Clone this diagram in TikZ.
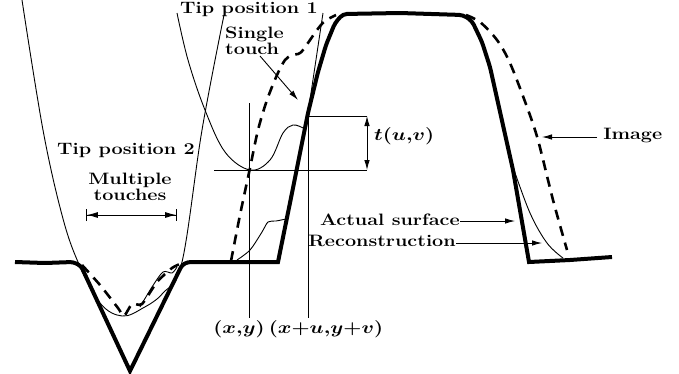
\documentclass[tikz,border=0pt]{standalone}
\usepackage{tikz}
\usetikzlibrary{arrows.meta, positioning}
\tikzset{
    lbl/.style={inner sep=0pt, font=\fontsize{16.5}{16.5}\selectfont\bfseries\boldmath, transform shape, xscale=1.2},
    lblleft/.style={lbl, anchor=west},
    lblright/.style={lbl, anchor=east},
    surface/.style={line width=4pt, line join=miter},
    image/.style={line width=2.6pt, dash pattern=on 10pt off 7pt},
    thin/.style={line width=0.9pt},
    arrow/.style={-{Latex[length=10pt, width=5.5pt]}, line width=0.9pt},
    dimarrow/.style={{Latex[length=10pt, width=5.5pt]}-{Latex[length=10pt, width=5.5pt]}, line width=0.9pt}
}

\begin{document}
\begin{tikzpicture}[x=1pt, y=-1pt]
    \useasboundingbox (0,0) rectangle (679,373);

    % surface and image
    \draw[surface, rounded corners=3pt] (15,262) -- (45,263) -- (73,262) -- (81,266) [sharp corners] -- (130,371) [rounded corners=3pt] -- (182,265) -- (188,262) -- (230,262) [sharp corners] -- (278,262) [rounded corners=4pt] -- (293,188) -- (308,113) -- (318,72) -- (326,45) -- (335,23) -- (343,14) -- (400,13) -- (463,15) -- (472,21) -- (482,42) -- (490,67) [sharp corners] -- (513,170) -- (529,262) -- (570,260) -- (612,257);
    \draw[image] plot[smooth, tension=0.5] coordinates {(231,261) (240,215) (250,168) (258,130) (267,100) (277,75) (285,60) (292,55) (298,54) (303,50) (317,30) (325,21) (336,15)};
    \draw[image] plot[smooth, tension=0.5] coordinates {(466,15) (480,22) (497,40) (510,63) (527,107) (538,140) (553,200) (567,250)};
    \draw[image] plot[smooth, tension=0.4] coordinates {(82,265) (100,285) (118,308) (124,316) (132,304) (142,304) (157,282) (172,268) (180,264)};

    % tip positions and reconstruction
    \draw[thin] plot[smooth, tension=0.6] coordinates {(22,0) (43,130) (62,215) (78,262) (100,303) (122,316) (143,308) (163,293) (182,262) (202,130) (224,15)};
    \draw[thin] plot[smooth, tension=0.5] coordinates {(140,307) (152,287) (163,272) (172,273) (177,267)};
    \draw[thin] plot[smooth, tension=0.6] coordinates {(177,13) (188,60) (205,110) (225,152) (250,170) (270,160) (283,133) (293,125) (303,128)};
    \draw[thin] plot[smooth, tension=0.5] coordinates {(237,260) (250,250) (262,232) (268,222) (276,221) (286,219)};
    \draw[thin] plot[smooth, tension=0.6] coordinates {(513,167) (530,213) (547,243) (563,258)};

    % labels
    \node[lblleft] (tip1) at (180,9) {Tip position 1};
    \node[lblleft] (single) at (225,34) {Single};
    \node[lblleft] (touch) at (225,49) {touch};
    \node[lblleft] (tip2) at (57,150) {Tip position 2};
    \node[lbl] (multiple) at (130,180) {Multiple};
    \node[lbl] (touches) at (130,195) {touches};
    \node[lbl] (xy) at (239,329) {$(x{,}y)$};
    \node[lbl] (xuyv) at (326,329) {$(x{+}u{,}y{+}v)$};
    \node[lblleft] (tuv) at (374,136) {$t(u{,}v)$};
    \node[lblright] (actual) at (460,220) {Actual surface};
    \node[lblright] (recon) at (456,241) {Reconstruction};
    \node[lblleft] (image) at (603,135) {Image};

    \coordinate (touchstart) at (260,56);
    \coordinate (touchend) at (298,100);
    \coordinate (imagestart) at (597,137);
    \coordinate (imageend) at (542,137);
    \coordinate (actualend) at (515,221);
    \coordinate (reconend) at (542,243);
    \coordinate (mleft) at (86,215);
    \coordinate (mright) at (177,215);
    \coordinate (xtop) at (249,103);
    \coordinate (xbot) at (249,318);
    \coordinate (utop) at (308,113);
    \coordinate (ubot) at (308,318);
    \coordinate (utip) at (323,13);
    \coordinate (hleft) at (214,170);
    \coordinate (hright) at (367,170);
    \coordinate (uright) at (367,116);
    \coordinate (uleft) at (308,116);

    % connectors
    \draw[thin] (xtop) -- (xbot);
    \draw[thin] (utop) -- (ubot);
    \draw[thin] (utop) -- (utip);
    \draw[thin] (hleft) -- (hright);
    \draw[thin] (uleft) -- (uright);
    \draw[dimarrow] (uright) -- (hright);
    \draw[{Bar[width=12pt]Latex[length=11pt, width=6pt]}-{Latex[length=11pt, width=6pt]Bar[width=12pt]}, line width=0.9pt] (mleft) -- (mright);
    \draw[arrow] (touchstart) -- (touchend);
    \draw[arrow] (imagestart) -- (imageend);
    \draw[arrow] (actual.east) ++(0,1) -- (actualend);
    \draw[arrow] (recon.east) ++(0,2) -- (reconend);
\end{tikzpicture}
\end{document}
